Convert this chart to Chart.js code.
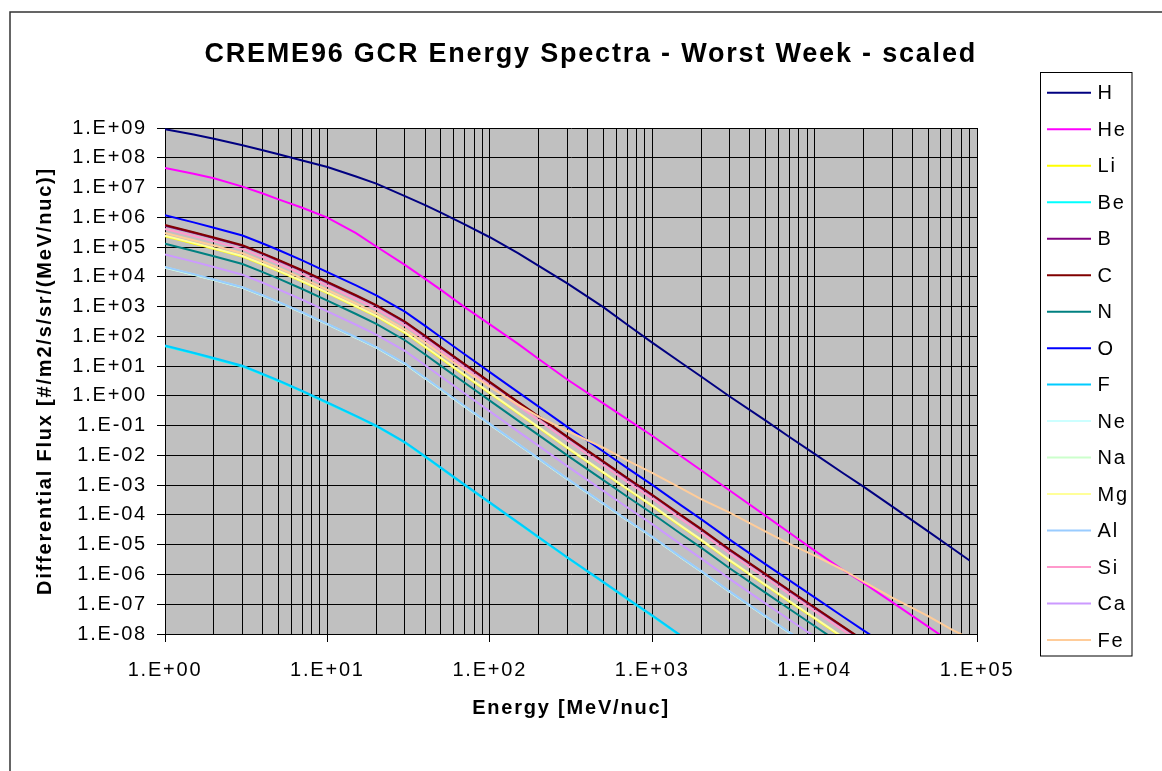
<!DOCTYPE html>
<html>
<head>
<meta charset="utf-8">
<script src="https://cdn.jsdelivr.net/npm/chart.js@4.4.1/dist/chart.umd.min.js"></script>
<style>
  html, body { margin: 0; padding: 0; background: #ffffff; }
  #wrap { width: 1162px; height: 771px; position: relative; }
</style>
</head>
<body>
<div id="wrap"><canvas id="c" width="1162" height="771"></canvas></div>
<script>
// ---- Data ----
// Energy in MeV/nuc; flux values are given as log10 of the differential flux
// [#/m2/s/sr/(MeV/nuc)] (null = below 1.E-08).
const ENERGY = [1, 1.5, 2, 3, 4, 5, 7, 10, 15, 20, 30, 40, 50, 70, 100, 150, 200, 300, 500, 700,
                1000, 1500, 2000, 3000, 5000, 7000, 10000, 15000, 20000, 30000, 50000, 70000, 90000];

const SPECIES = ['H','He','Li','Be','B','C','N','O','F','Ne','Na','Mg','Al','Si','Ca','Fe'];
const COLORS  = ['#000080','#FF00FF','#FFFF00','#00FFFF','#800080','#800000','#008080','#0000FF',
                 '#00CCFF','#CCFFFF','#CCFFCC','#FFFF99','#99CCFF','#FF99CC','#CC99FF','#FFCC99'];

const H_LOG  = [8.96, 8.78, 8.64, 8.42, 8.25, 8.12, 7.91, 7.69, 7.37, 7.13, 6.71, 6.41, 6.16, 5.76, 5.33, 4.79, 4.37, 3.78, 2.98, 2.40,
                1.79, 1.12, 0.65, -0.02, -0.83, -1.38, -1.95, -2.60, -3.05, -3.71, -4.55, -5.11, -5.53];
const HE_LOG = [7.66, 7.46, 7.31, 7.03, 6.80, 6.60, 6.32, 5.99, 5.47, 5.02, 4.40, 3.93, 3.56, 2.98, 2.40, 1.74, 1.24, 0.55, -0.25, -0.78,
                -1.34, -2.02, -2.50, -3.18, -4.03, -4.60, -5.20, -5.85, -6.28, -6.93, -7.75, -8.30, -8.70];
const LI_LOG = [5.36, 5.12, 4.94, 4.68, 4.41, 4.19, 3.84, 3.45, 3.00, 2.67, 2.12, 1.64, 1.26, 0.69, 0.09, -0.59, -1.07, -1.75, -2.58, -3.13,
                -3.70, -4.38, -4.85, -5.54, -6.37, -6.91, -7.48, -8.13, null, null, null, null, null];
const BE_LOG = [1.67, 1.43, 1.25, 0.99, 0.72, 0.50, 0.15, -0.24, -0.69, -1.02, -1.57, -2.05, -2.43, -3.00, -3.60, -4.28, -4.76, -5.44, -6.27, -6.82,
                -7.39, -8.07, null, null, null, null, null, null, null, null, null, null, null];
const B_LOG  = [5.72, 5.48, 5.30, 5.04, 4.77, 4.55, 4.20, 3.81, 3.36, 3.03, 2.48, 2.00, 1.62, 1.05, 0.45, -0.23, -0.71, -1.39, -2.22, -2.77,
                -3.34, -4.02, -4.49, -5.18, -6.01, -6.55, -7.12, -7.77, -8.23, null, null, null, null];
const C_LOG  = [5.74, 5.50, 5.32, 5.06, 4.79, 4.57, 4.22, 3.83, 3.38, 3.05, 2.50, 2.02, 1.64, 1.07, 0.47, -0.21, -0.69, -1.37, -2.20, -2.75,
                -3.32, -4.00, -4.47, -5.16, -5.99, -6.53, -7.10, -7.75, -8.21, null, null, null, null];
const N_LOG  = [5.11, 4.87, 4.69, 4.43, 4.16, 3.94, 3.59, 3.20, 2.75, 2.42, 1.87, 1.39, 1.01, 0.44, -0.16, -0.84, -1.32, -2.00, -2.83, -3.38,
                -3.95, -4.63, -5.10, -5.79, -6.62, -7.16, -7.73, -8.38, null, null, null, null, null];
const O_LOG  = [6.07, 5.83, 5.65, 5.39, 5.12, 4.90, 4.55, 4.16, 3.71, 3.38, 2.83, 2.35, 1.97, 1.40, 0.80, 0.12, -0.36, -1.04, -1.87, -2.42,
                -2.99, -3.67, -4.14, -4.83, -5.66, -6.20, -6.77, -7.42, -7.88, -8.50, null, null, null];
const F_LOG  = [1.69, 1.45, 1.27, 1.01, 0.74, 0.52, 0.17, -0.22, -0.67, -1.00, -1.55, -2.03, -2.41, -2.98, -3.58, -4.26, -4.74, -5.42, -6.25, -6.80,
                -7.37, -8.05, null, null, null, null, null, null, null, null, null, null, null];
const NE_LOG = [4.31, 4.07, 3.89, 3.63, 3.36, 3.14, 2.79, 2.40, 1.95, 1.62, 1.07, 0.59, 0.21, -0.36, -0.96, -1.64, -2.12, -2.80, -3.63, -4.18,
                -4.75, -5.43, -5.90, -6.59, -7.42, -7.96, -8.53, null, null, null, null, null, null];
const NA_LOG = [4.32, 4.08, 3.90, 3.64, 3.37, 3.15, 2.80, 2.41, 1.96, 1.63, 1.08, 0.60, 0.22, -0.35, -0.95, -1.63, -2.11, -2.79, -3.62, -4.17,
                -4.74, -5.42, -5.89, -6.58, -7.41, -7.95, -8.52, null, null, null, null, null, null];
const MG_LOG = [5.38, 5.14, 4.96, 4.70, 4.43, 4.21, 3.86, 3.47, 3.02, 2.69, 2.14, 1.66, 1.28, 0.71, 0.11, -0.57, -1.05, -1.73, -2.56, -3.11,
                -3.68, -4.36, -4.83, -5.52, -6.35, -6.89, -7.46, -8.11, null, null, null, null, null];
const AL_LOG = [4.33, 4.09, 3.91, 3.65, 3.38, 3.16, 2.81, 2.42, 1.97, 1.64, 1.09, 0.61, 0.23, -0.34, -0.94, -1.62, -2.10, -2.78, -3.61, -4.16,
                -4.73, -5.41, -5.88, -6.57, -7.40, -7.94, -8.51, null, null, null, null, null, null];
const SI_LOG = [5.61, 5.37, 5.19, 4.93, 4.66, 4.44, 4.09, 3.70, 3.25, 2.92, 2.37, 1.89, 1.51, 0.94, 0.34, -0.34, -0.82, -1.50, -2.33, -2.88,
                -3.45, -4.13, -4.60, -5.29, -6.12, -6.66, -7.23, -7.88, -8.34, null, null, null, null];
const CA_LOG = [4.75, 4.51, 4.33, 4.07, 3.80, 3.58, 3.23, 2.84, 2.39, 2.06, 1.51, 1.03, 0.65, 0.08, -0.52, -1.20, -1.68, -2.36, -3.19, -3.74,
                -4.31, -4.99, -5.46, -6.15, -6.98, -7.52, -8.09, null, null, null, null, null, null];
const FE_LOG = [5.47, 5.23, 5.05, 4.79, 4.52, 4.30, 3.95, 3.56, 3.11, 2.78, 2.23, 1.78, 1.41, 0.86, 0.30, -0.30, -0.70, -1.18, -1.74, -2.17,
                -2.59, -3.10, -3.47, -3.92, -4.56, -4.97, -5.37, -5.85, -6.24, -6.78, -7.40, -7.85, -8.15];

const SERIES_LOG = [H_LOG, HE_LOG, LI_LOG, BE_LOG, B_LOG, C_LOG, N_LOG, O_LOG, F_LOG, NE_LOG, NA_LOG, MG_LOG, AL_LOG, SI_LOG, CA_LOG, FE_LOG];

const Y_DECADES = [-8,-7,-6,-5,-4,-3,-2,-1,0,1,2,3,4,5,6,7,8,9];
const X_DECADES = [0,1,2,3,4,5];

const TITLE = 'CREME96 GCR Energy Spectra - Worst Week - scaled';
const X_TITLE = 'Energy [MeV/nuc]';
const Y_TITLE = 'Differential Flux [#/m2/s/sr/(MeV/nuc)]';

// ---- helpers ----
function fmtExp(v) {
  const e = Math.round(Math.log10(v));
  return '1.E' + (e < 0 ? '-' : '+') + String(Math.abs(e)).padStart(2, '0');
}
function isDecade(v) {
  const l = Math.log10(v);
  return Math.abs(l - Math.round(l)) < 1e-9;
}
const xTickValues = [];
X_DECADES.forEach(function (d, i) {
  if (i === X_DECADES.length - 1) { xTickValues.push(Math.pow(10, d)); return; }
  for (let m = 1; m <= 9; m++) xTickValues.push(m * Math.pow(10, d));
});

const FONT = "'Liberation Sans', Arial, sans-serif";

const datasets = SPECIES.map(function (name, i) {
  return {
    label: name,
    data: ENERGY.map(function (e, j) {
      const lv = SERIES_LOG[i][j];
      return { x: e, y: (lv === null ? null : Math.pow(10, lv)) };
    }),
    borderColor: COLORS[i],
    backgroundColor: COLORS[i],
    borderWidth: 2,
    pointRadius: 0,
    tension: 0,
    fill: false,
    spanGaps: false,
    order: -i
  };
});

const framePlugin = {
  id: 'frame',
  beforeDraw: function (chart) {
    const ctx = chart.ctx;
    ctx.letterSpacing = '1.8px';
    const a = chart.chartArea;
    ctx.save();
    ctx.fillStyle = '#ffffff';
    ctx.fillRect(0, 0, chart.width, chart.height);
    ctx.strokeStyle = '#333333';
    ctx.lineWidth = 1.5;
    ctx.strokeRect(10, 12, 1300, 900);
    ctx.fillStyle = '#C0C0C0';
    ctx.fillRect(a.left, a.top, a.right - a.left, a.bottom - a.top);
    ctx.restore();
  },
  afterDraw: function (chart) {
    const ctx = chart.ctx;
    ctx.save();
    const bx = 1040.5, by = 72.5, bw = 91.5, bh = 583.5;
    ctx.strokeStyle = '#000000';
    ctx.lineWidth = 1;
    ctx.strokeRect(bx, by, bw, bh);
    const y0 = 92.7, step = 36.49;
    ctx.font = '20px ' + FONT;
    ctx.textBaseline = 'middle';
    ctx.textAlign = 'left';
    chart.data.datasets.forEach(function (ds, i) {
      const y = y0 + i * step;
      ctx.strokeStyle = ds.borderColor;
      ctx.lineWidth = 2;
      ctx.beginPath();
      ctx.moveTo(1047, y);
      ctx.lineTo(1091, y);
      ctx.stroke();
      ctx.fillStyle = '#000000';
      ctx.fillText(ds.label, 1097.5, y + 1);
    });
    ctx.restore();
  }
};

new Chart(document.getElementById('c'), {
  type: 'line',
  data: { datasets: datasets },
  plugins: [framePlugin],
  options: {
    responsive: false,
    devicePixelRatio: 1,
    animation: false,
    layout: { padding: { left: 20, top: 12, right: 185, bottom: 37 } },
    plugins: {
      legend: { display: false },
      tooltip: { enabled: false },
      title: {
        display: true,
        text: TITLE,
        align: 'end',
        color: '#000000',
        font: { family: FONT, size: 27, weight: 'bold', lineHeight: 1.2 },
        padding: { top: 26, bottom: 57.6 }
      }
    },
    scales: {
      x: {
        type: 'logarithmic',
        position: 'bottom',
        min: 1,
        max: 100000,
        afterBuildTicks: function (scale) {
          scale.ticks = xTickValues.map(function (v) { return { value: v }; });
        },
        afterFit: function (scale) { scale.height = 100; },
        ticks: {
          autoSkip: false,
          maxRotation: 0,
          minRotation: 0,
          padding: 16,
          color: '#000000',
          font: { family: FONT, size: 20 },
          callback: function (v) { return isDecade(v) ? fmtExp(v) : ''; }
        },
        grid: {
          color: '#000000',
          lineWidth: 1,
          drawTicks: true,
          tickLength: 8,
          tickColor: function (c) { return (c.tick && isDecade(c.tick.value)) ? '#000000' : 'rgba(0,0,0,0)'; }
        },
        border: { display: true, color: '#000000', width: 1 },
        title: {
          display: true,
          text: X_TITLE,
          color: '#000000',
          font: { family: FONT, size: 20, weight: 'bold', lineHeight: 1.2 },
          padding: { top: 0, bottom: 14 }
        }
      },
      y: {
        type: 'logarithmic',
        position: 'left',
        min: 1e-8,
        max: 1e9,
        afterBuildTicks: function (scale) {
          scale.ticks = Y_DECADES.map(function (d) { return { value: Math.pow(10, d) }; });
        },
        afterFit: function (scale) { scale.width = 145; },
        ticks: {
          autoSkip: false,
          padding: 10,
          color: '#000000',
          font: { family: FONT, size: 20 },
          callback: function (v) { return fmtExp(v); }
        },
        grid: {
          color: '#000000',
          lineWidth: 1,
          drawTicks: true,
          tickLength: 8,
          tickColor: '#000000'
        },
        border: { display: true, color: '#000000', width: 1 },
        title: {
          display: true,
          text: Y_TITLE,
          color: '#000000',
          font: { family: FONT, size: 20, weight: 'bold', lineHeight: 1.2 },
          padding: { top: 13, bottom: 0 }
        }
      }
    }
  }
});
</script>
</body>
</html>
